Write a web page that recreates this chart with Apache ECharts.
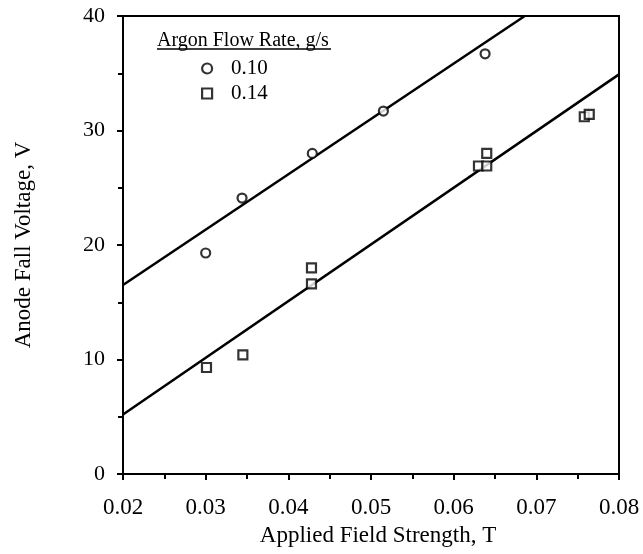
<!DOCTYPE html>
<html><head><meta charset="utf-8">
<script src="https://cdn.jsdelivr.net/npm/echarts@6/dist/echarts.min.js"></script>
<style>html,body{margin:0;padding:0;background:#fff}#c{width:643px;height:554px}</style>
</head><body><div id="c"></div>
<script>
var flow010 = [[0.0300,19.3],[0.0344,24.1],[0.0429,28.0],[0.0515,31.7],[0.0638,36.7]];
var flow014 = [[0.0301,9.3],[0.0345,10.4],[0.0428,18.0],[0.0428,16.6],[0.0630,26.9],[0.0640,26.9],[0.0640,28.0],[0.0758,31.2],[0.0764,31.4]];
var fit010 = [[0.02,16.5],[0.0686,40]];
var fit014 = [[0.02,5.2],[0.08,34.9]];
var xTicks = [0.02,0.03,0.04,0.05,0.06,0.07,0.08];
var yTicks = [0,10,20,30,40];
var legendTitle = 'Argon Flow Rate, g/s';
var seriesNames = ['0.10','0.14'];

var chart = echarts.init(document.getElementById('c'));
var F = 'Liberation Serif';
chart.setOption({
  animation:false,
  grid:{left:123,right:24,top:16,bottom:80,show:true,borderColor:'#000',borderWidth:2,backgroundColor:'transparent'},
  xAxis:{type:'value',min:0.02,max:0.08,interval:0.01,
    name:'Applied Field Strength, T',nameLocation:'middle',nameGap:50,
    nameTextStyle:{fontFamily:F,fontSize:23,color:'#000',padding:[0,0,0,14]},
    axisLine:{lineStyle:{color:'#000',width:2}},
    axisTick:{show:true,length:6,lineStyle:{color:'#000',width:2}},
    minorTick:{show:true,splitNumber:2,length:5,lineStyle:{color:'#000',width:2}},
    splitLine:{show:false},
    axisLabel:{fontFamily:F,fontSize:23,color:'#000',margin:22,
      formatter:function(v){var i=xTicks.findIndex(function(t){return Math.abs(t-v)<1e-9});return i>=0?xTicks[i].toFixed(2):'';}}
  },
  yAxis:{type:'value',min:0,max:40,interval:10,
    name:'Anode Fall Voltage, V',nameLocation:'middle',nameGap:88,
    nameTextStyle:{fontFamily:F,fontSize:23,color:'#000'},
    axisLine:{lineStyle:{color:'#000',width:2}},
    axisTick:{show:true,length:6,lineStyle:{color:'#000',width:2}},
    minorTick:{show:true,splitNumber:2,length:5,lineStyle:{color:'#000',width:2}},
    splitLine:{show:false},
    axisLabel:{fontFamily:F,fontSize:22,color:'#000',margin:18,
      formatter:function(v){return yTicks.indexOf(v)>=0?String(v):'';}}
  },
  legend:{orient:'vertical',left:196,top:53,itemGap:4,itemWidth:10,itemHeight:10,
    data:[{name:seriesNames[0],icon:'circle'},{name:seriesNames[1],icon:'rect'}],
    itemStyle:{color:'#fff',borderColor:'#000',borderWidth:2.2},
    textStyle:{fontFamily:F,fontSize:21,color:'#000',padding:[0,0,0,14]}
  },
  graphic:[
    {type:'text',left:157,top:31,style:{text:legendTitle,fontFamily:F,fontSize:20,fill:'#000'}},
    {type:'line',shape:{x1:157,y1:49,x2:331,y2:49},style:{stroke:'#000',lineWidth:1.5}}
  ],
  series:[
    {name:seriesNames[0],type:'scatter',data:flow010,symbol:'circle',symbolSize:9,
      itemStyle:{color:'#fff',borderColor:'#000',borderWidth:2.2}},
    {name:seriesNames[1],type:'scatter',data:flow014,symbol:'rect',symbolSize:9,
      itemStyle:{color:'#fff',borderColor:'#000',borderWidth:2.2}},
    {type:'line',data:fit010,symbol:'none',lineStyle:{color:'#000',width:2.5},z:1},
    {type:'line',data:fit014,symbol:'none',lineStyle:{color:'#000',width:2.5},z:1}
  ]
});
</script></body></html>
